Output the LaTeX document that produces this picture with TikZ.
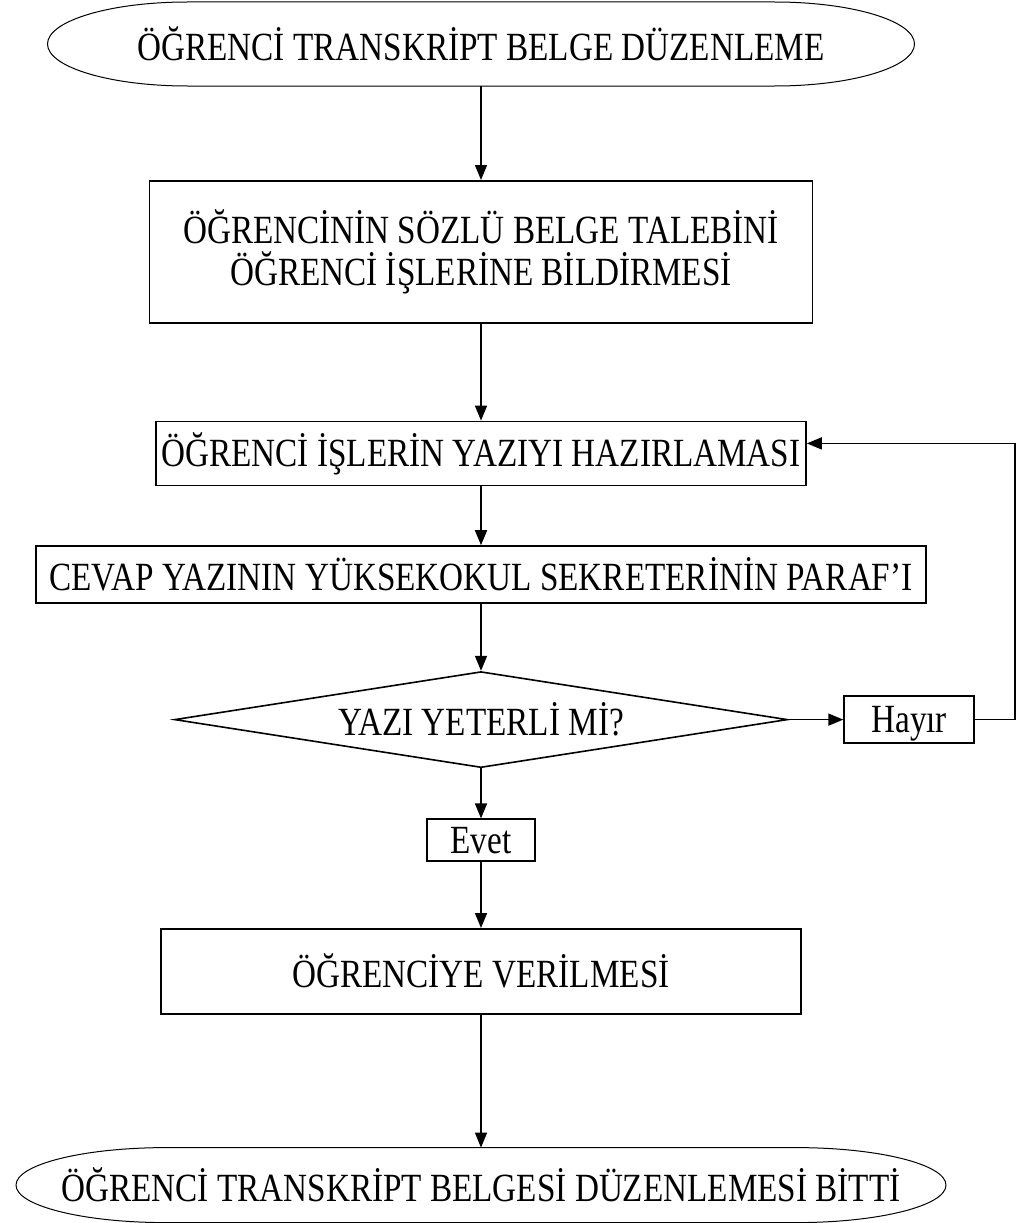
\documentclass[tikz,border=0pt]{standalone}
\usepackage{fontspec}
\setmainfont{Liberation Serif}[FakeStretch=0.83]
\usetikzlibrary{
		positioning,
		arrows.meta,
		shapes.geometric
	}
\tikzset{
		>={Triangle[length=15pt,width=12pt]}
	}

\begin{document}
\begin{tikzpicture}[-,auto,node distance=10mm,font=\fontsize{40pt}{42pt}\selectfont]
	\tikzstyle{point}=[coordinate]
	\tikzstyle{terminal}=[rectangle, outer sep=0pt, inner sep=0pt, minimum height=84pt]
	\tikzstyle{block}=[draw, rectangle, line width=1.6pt, align=center, inner sep=0pt]
	\tikzstyle{answer}=[block, text depth=0pt]
	\tikzstyle{decision}=[draw, diamond, aspect=6.4, line width=1.6pt, inner sep=0pt, minimum width=613pt, minimum height=96pt]
	\tikzstyle{line}=[line width=1.6pt, ->]
	\useasboundingbox (0,0) rectangle (1015pt,-1223pt);
	% Terminals and Blocks
	\node[terminal, minimum width=867pt] (bas)		at (481pt,-44pt)		{ÖĞRENCİ TRANSKRİPT BELGE DÜZENLEME};
	\node[block, minimum width=663pt, minimum height=142pt] (talep)	[below = 94pt of bas]		{ÖĞRENCİNİN SÖZLÜ BELGE TALEBİNİ\\ÖĞRENCİ İŞLERİNE BİLDİRMESİ};
	\node[block, minimum width=650pt, minimum height=64pt] (hazir)	[below = 97pt of talep]		{ÖĞRENCİ İŞLERİN YAZIYI HAZIRLAMASI};
	\node[block, minimum width=890pt, minimum height=57pt] (paraf)	[below = 59pt of hazir]		{CEVAP YAZININ YÜKSEKOKUL SEKRETERİNİN PARAF’I};
	\node[decision] (yeterli)	[below = 67pt of paraf]		{YAZI YETERLİ Mİ?};
	\node[answer, minimum width=130pt, minimum height=47pt] (hayir)	[right = 55pt of yeterli]	{Hayır};
	\node[answer, minimum width=108pt, minimum height=42pt] (evet)	[below = 50pt of yeterli]	{Evet};
	\node[block, minimum width=640pt, minimum height=85pt] (verme)	[below = 66pt of evet]		{ÖĞRENCİYE VERİLMESİ};
	\node[terminal, minimum width=930pt, minimum height=75pt] (son)	[below = 133pt of verme]	{ÖĞRENCİ TRANSKRİPT BELGESİ DÜZENLEMESİ BİTTİ};
	\node[point] (geri)	[right = 40pt of hayir]	{};
	% Terminal outlines
	\draw [line width=1pt] ([xshift=140pt]bas.north west) -- ([xshift=-140pt]bas.north east) arc[start angle=90, end angle=-90, x radius=140pt, y radius=42pt] -- ([xshift=140pt]bas.south west) arc[start angle=270, end angle=90, x radius=140pt, y radius=42pt] -- cycle;
	\draw [line width=1pt] ([xshift=150pt]son.north west) -- ([xshift=-150pt]son.north east) arc[start angle=90, end angle=-90, x radius=150pt, y radius=37.5pt] -- ([xshift=150pt]son.south west) arc[start angle=270, end angle=90, x radius=150pt, y radius=37.5pt] -- cycle;
	% Straight Lines
	\draw [line] (bas) -- (talep);
	\draw [line] (talep) -- (hazir);
	\draw [line] (hazir) -- (paraf);
	\draw [line] (paraf) -- (yeterli);
	\draw [line] (yeterli) -- (hayir);
	\draw [line] (yeterli) -- (evet);
	\draw [line] (evet) -- (verme);
	\draw [line] (verme) -- (son);
	% Other lines
	\draw [line] (hayir) -- (geri) |- ([yshift=10pt]hazir.east);
\end{tikzpicture}
\end{document}
